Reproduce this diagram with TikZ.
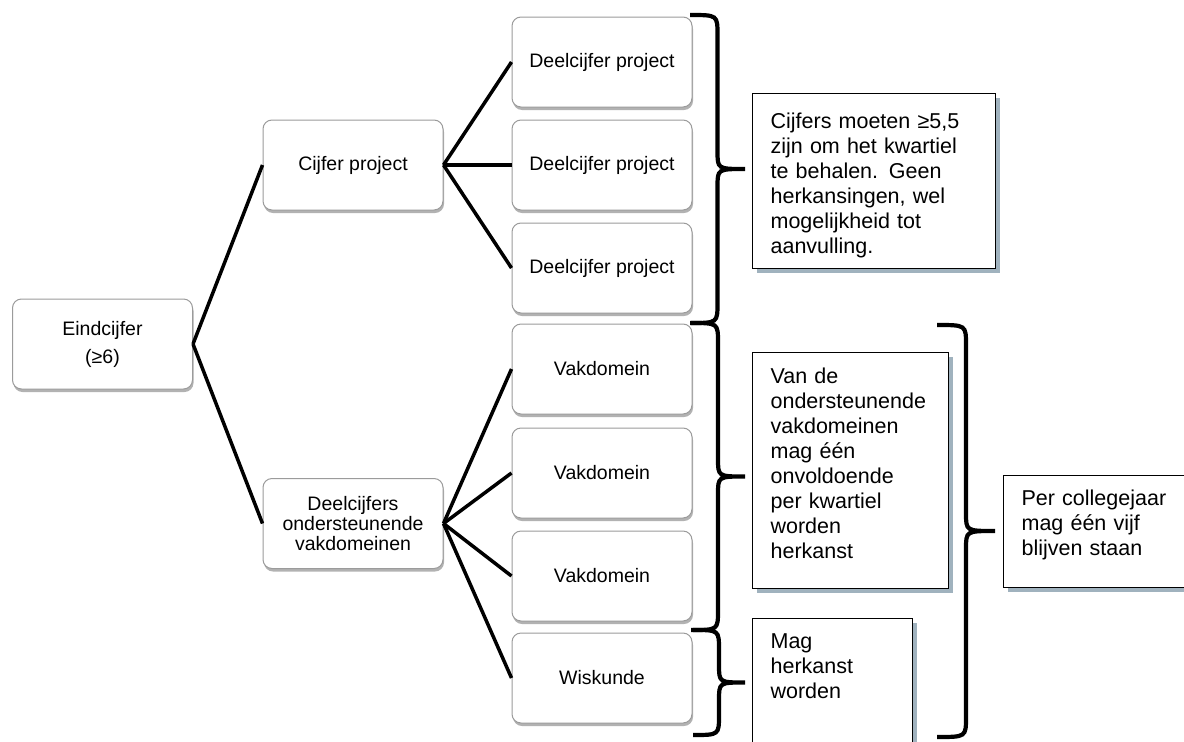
\documentclass[tikz,border=0pt]{standalone}
\usepackage{fontspec}
\setmainfont{Liberation Sans}
\usetikzlibrary{shadows}

\definecolor{rahmengrau}{RGB}{155,155,155}
\definecolor{schattenblau}{RGB}{160,178,190}

\tikzset{
	vak/.style={draw=rahmengrau, line width=1pt, rounded corners=9pt, fill=white,
		minimum width=180pt, minimum height=90pt, align=center,
		font=\fontsize{19.5}{20}\selectfont,
		drop shadow={shadow xshift=1pt, shadow yshift=-3pt, opacity=.3, fill=black}},
	notiz/.style={draw=black, line width=1.2pt, fill=white, anchor=north west, align=left,
		inner xsep=18pt, text height=15pt, font=\fontsize{21.5}{25}\selectfont,
		drop shadow={shadow xshift=4pt, shadow yshift=-4pt, opacity=1, fill=schattenblau}},
	tak/.style={line width=3.5pt},
	klammerlinie/.style={line width=4.2pt}
}

%Klammer: x der Enden, oben, unten, x der Spitze
\newcommand{\klammer}[4]{%
	\pgfmathsetmacro{\stiel}{(#1+#4)/2}%
	\pgfmathsetmacro{\mitte}{(#2+#3)/2}%
	\draw[klammerlinie] (#1,#2) .. controls (\stiel,#2) .. (\stiel,#2+20)
		-- (\stiel,\mitte-18) .. controls (\stiel,\mitte) .. (#4,\mitte)
		.. controls (\stiel,\mitte) .. (\stiel,\mitte+18)
		-- (\stiel,#3-20) .. controls (\stiel,#3) .. (#1,#3);
}

\begin{document}
\begin{tikzpicture}[x=1pt, y=-1pt]
	\useasboundingbox (0,0) rectangle (1184,742);
	%Kaesten zeichnen
	\node[vak] (eind) at (102.5,344) {Eindcijfer\\[8pt](≥6)};
	\node[vak] (cproj) at (353,165) {Cijfer project};
	\node[vak] (dvak) at (353,523.5) {Deelcijfers\\ondersteunende\\vakdomeinen};
	\draw[tak] (eind.east) -- (cproj.west);
	\draw[tak] (eind.east) -- (dvak.west);
	\foreach \y [count=\i] in {62,165,268}
	{
		\node[vak] (dproj\i) at (602,\y) {Deelcijfer project};
		\draw[tak] (cproj.east) -- (dproj\i.west);
	}
	\foreach \y/\t [count=\i] in {369/Vakdomein,473/Vakdomein,576/Vakdomein,678/Wiskunde}
	{
		\node[vak] (vd\i) at (602,\y) {\t};
		\draw[tak] (dvak.east) -- (vd\i.west);
	}
	%Klammern
	\klammer{690}{15}{323}{745}
	\klammer{691}{323}{630}{745}
	\klammer{693}{630}{735}{745}
	\klammer{937}{325}{737}{995}
	%Opmerkingen
	\node[notiz, text width=207pt, inner ysep=20pt, text depth=120pt] (opmproj) at (752,93)
		{Cijfers moeten ≥5,5\\zijn om het kwartiel\\te behalen. Geen\\herkansingen, wel\\mogelijkheid tot\\aanvulling.};
	\node[notiz, text width=160pt, inner ysep=16pt, text depth=189pt] (opmvak) at (752,352)
		{Van de\\ondersteunende\\vakdomeinen\\mag één\\onvoldoende\\per kwartiel\\worden\\herkanst};
	\node[notiz, text width=124pt, inner ysep=15pt, text depth=85pt] (opmwisk) at (752,618)
		{Mag\\herkanst\\worden};
	\node[notiz, text width=160pt, inner ysep=15pt, text depth=67pt] (opmjaar) at (1003,475)
		{Per collegejaar\\mag één vijf\\blijven staan};
\end{tikzpicture}
\end{document}
